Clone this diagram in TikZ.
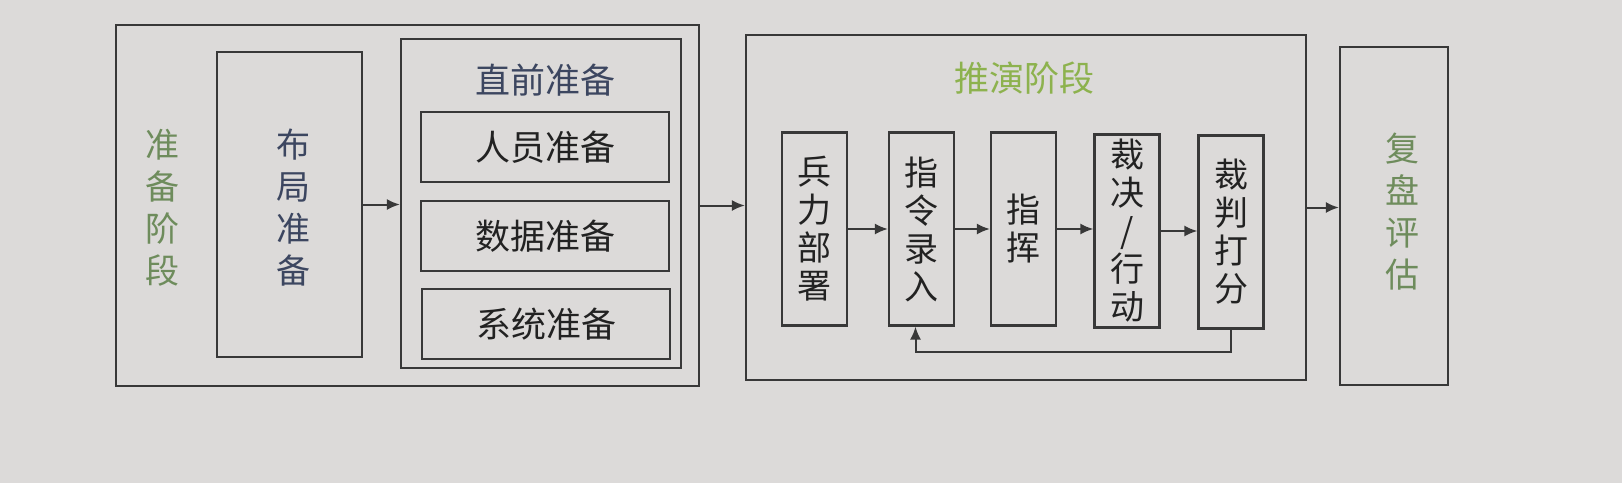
\documentclass[tikz,border=0pt]{standalone}
\usepackage{fontspec}
\setmainfont{Noto Sans CJK SC}
\usetikzlibrary{arrows.meta}
\definecolor{screen}{HTML}{DCDAD9}
\definecolor{frame}{HTML}{383838}
\definecolor{stagegreen}{HTML}{6E8C5C}
\definecolor{titlegreen}{HTML}{8DB24E}
\definecolor{titleblue}{HTML}{3C4660}
\definecolor{ink}{HTML}{222222}
\tikzset{
  box/.style={draw=frame, line width=2.2pt, inner sep=0pt},
  vtext/.style={align=center, text=ink, font=\fontsize{34}{42}\selectfont},
  steptext/.style={align=center, text=ink, font=\fontsize{34}{38}\selectfont},
  htext/.style={text=ink, font=\fontsize{35}{40}\selectfont},
  flow/.style={-{Latex[length=13pt,width=11pt]}, line width=2pt, draw=frame}
}
\begin{document}
\begin{tikzpicture}[x=1pt, y=-1pt]
    \fill[screen] (0,0) rectangle (1622,483);

    % Preparation stage
    \node[box, minimum width=583pt, minimum height=361pt] (prep) at (407.5,205.5) {};
    \node[vtext, text=stagegreen] (preplabel) at (162,208) {准\\备\\阶\\段};
    \node[box, minimum width=145pt, minimum height=305pt] (layout) at (289.5,204.5) {};
    \node[vtext, text=titleblue] (layoutlabel) at (293,208) {布\\局\\准\\备};
    \node[box, minimum width=280pt, minimum height=329pt] (direct) at (541,203.5) {};
    \node[htext, text=titleblue] (directlabel) at (545,80) {直前准备};
    \node[box, minimum width=248pt, minimum height=70pt] (staff) at (545,147) {};
    \node[htext] at (staff) {人员准备};
    \node[box, minimum width=248pt, minimum height=70pt] (data) at (545,236) {};
    \node[htext] at (data) {数据准备};
    \node[box, minimum width=248pt, minimum height=70pt] (sys) at (546,324) {};
    \node[htext] at (sys) {系统准备};

    % Exercise stage
    \node[box, minimum width=560pt, minimum height=345pt] (exer) at (1026,207.5) {};
    \node[htext, text=titlegreen] (exerlabel) at (1024,78) {推演阶段};
    \node[box, minimum width=65pt, minimum height=193pt] (deploy) at (814.5,229) {};
    \node[steptext] at (deploy) {兵\\力\\部\\署};
    \node[box, minimum width=65pt, minimum height=193pt] (order) at (921.5,229) {};
    \node[steptext] at (order) {指\\令\\录\\入};
    \node[box, minimum width=65pt, minimum height=193pt] (command) at (1023.5,229) {};
    \node[steptext] at (command) {指\\挥};
    \node[box, minimum width=65pt, minimum height=193pt] (judge) at (1127,231) {};
    \node[steptext] at (judge) {裁\\决\\/\\行\\动};
    \node[box, minimum width=65pt, minimum height=193pt] (score) at (1231,232) {};
    \node[steptext] at (score) {裁\\判\\打\\分};

    % Review stage
    \node[box, minimum width=108pt, minimum height=338pt] (review) at (1394,216) {};
    \node[vtext, text=stagegreen] (reviewlabel) at (1402,212) {复\\盘\\评\\估};

    % Connectors
    \draw[flow] (layout.east) -- (layout.east -| direct.west);
    \draw[flow] (prep.east) -- (prep.east -| exer.west);
    \draw[flow] (deploy) -- (deploy -| order.west);
    \draw[flow] (order) -- (order -| command.west);
    \draw[flow] (command) -- (command -| judge.west);
    \draw[flow] (judge) -- (judge -| score.west);
    \draw[flow] (score.south) -- ++(0,22) -| ([xshift=-6pt]order.south);
    \draw[flow] (exer.east) -- (exer.east -| review.west);
\end{tikzpicture}
\end{document}
